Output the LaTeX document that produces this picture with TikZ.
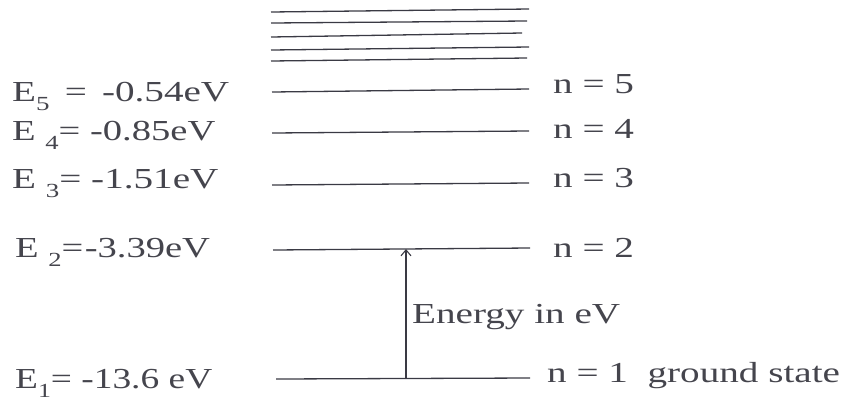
\documentclass[tikz,border=0pt]{standalone}
\usepackage{fontspec}
\setmainfont{Liberation Serif}
\usetikzlibrary{arrows.meta}
\definecolor{ink}{HTML}{3A3A44}
\definecolor{txt}{HTML}{45454D}
\newcommand{\widetxt}[2][1.35]{\scalebox{#1}[1]{#2}}
\newcommand{\lsub}[1]{\raisebox{-0.32em}{\fontsize{20}{20}\selectfont #1}}
\tikzset{
  lbl/.style={anchor=base west, inner sep=0pt, text=txt, font=\fontsize{29}{30}\selectfont},
  level/.style={draw=ink, line width=1.3pt},
  up/.style={draw=ink, line width=1.1pt, -{Straight Barb[length=6pt,width=10pt]}}
}
\begin{document}
\begin{tikzpicture}[x=1pt,y=-1pt]
\useasboundingbox (0,0) rectangle (845,400);
% continuum levels
\draw[level] (271,12) -- (529,9);
\draw[level] (271,23) -- (527,21);
\draw[level] (271,37) -- (522,33);
\draw[level] (271,50) -- (529,47);
\draw[level] (271,61) -- (527,58);
% levels
\coordinate (l5) at (272,92);  \coordinate (r5) at (529,89);
\coordinate (l4) at (272,133); \coordinate (r4) at (529,131);
\coordinate (l3) at (272,185); \coordinate (r3) at (529,183);
\coordinate (l2) at (273,250); \coordinate (r2) at (530,248);
\coordinate (l1) at (276,379); \coordinate (r1) at (530,378);
\draw[level] (l5) -- (r5);
\draw[level] (l4) -- (r4);
\draw[level] (l3) -- (r3);
\draw[level] (l2) -- (r2);
\draw[level] (l1) -- (r1);
\coordinate (a1) at (406,379);
\coordinate (a2) at (406,249);
\draw[up] (a1) -- (a2);
% left labels
\node[lbl] (e5) at (12,101) {\widetxt{E\lsub{5}\hspace{4pt} = \hspace{4pt}-0.54eV}};
\node[lbl] (e4) at (12,140) {\widetxt[1.33]{E \lsub{4}= -0.85eV}};
\node[lbl] (e3) at (12,188) {\widetxt{E \lsub{3}= -1.51eV}};
\node[lbl] (e2) at (15,257) {\widetxt[1.33]{E \lsub{2}=\hspace{1pt}-3.39eV}};
\node[lbl] (e1) at (15,388) {\widetxt[1.29]{E\lsub{1}= -13.6 eV}};
% right labels
\node[lbl] (n5) at (553,93) {\widetxt{n = 5}};
\node[lbl] (n4) at (553,138) {\widetxt{n = 4}};
\node[lbl] (n3) at (553,187) {\widetxt{n = 3}};
\node[lbl] (n2) at (553,257) {\widetxt{n = 2}};
\node[lbl] (n1) at (547,382) {\widetxt{n = 1\ \ ground state}};
\node[lbl] (en) at (412,323) {\widetxt{Energy in eV}};
\end{tikzpicture}
\end{document}
